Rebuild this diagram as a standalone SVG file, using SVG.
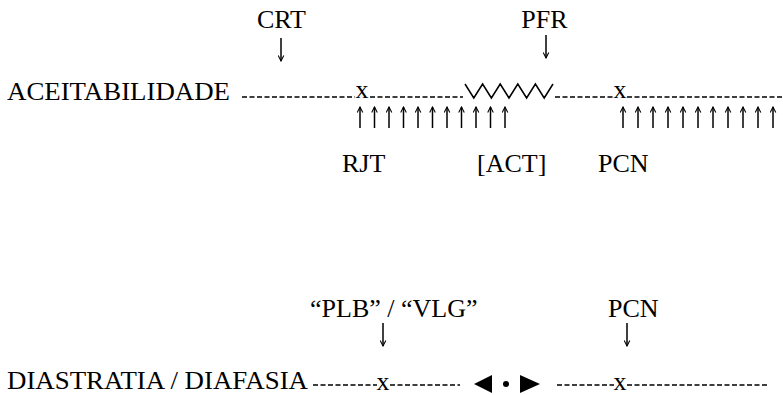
<svg xmlns="http://www.w3.org/2000/svg" width="783" height="395" viewBox="0 0 783 395">
<defs>
<style>
text{font-family:"Liberation Serif","Times New Roman",serif;font-size:26px;fill:#000}
.dash{stroke:#000;stroke-width:1.6;stroke-dasharray:5 2.5;fill:none}
.arr{stroke:#000;stroke-width:1.5;fill:none;marker-end:url(#ah)}
.zz{stroke:#000;stroke-width:1.5;fill:none}
</style>
<marker id="ah" viewBox="0 0 10 10" refX="9" refY="5" markerWidth="7" markerHeight="7" markerUnits="userSpaceOnUse" orient="auto">
<path d="M1,1 L9,5 L1,9" fill="none" stroke="#000" stroke-width="1.5"/>
</marker>
</defs>
<rect width="783" height="395" fill="#fff"/>

<g id="crt"><text x="281.5" y="28" text-anchor="middle">CRT</text></g>
<g id="pfr"><text x="544.5" y="28" text-anchor="middle">PFR</text></g>
<g id="aceitabilidade"><text x="7" y="100" textLength="223" lengthAdjust="spacingAndGlyphs">ACEITABILIDADE</text></g>
<g id="x1"><text x="362" y="98" text-anchor="middle">x</text></g>
<g id="x2"><text x="620" y="98" text-anchor="middle">x</text></g>
<g id="rjt"><text x="342" y="172">RJT</text></g>
<g id="act"><text x="477" y="172">[ACT]</text></g>
<g id="pcn1"><text x="598" y="172">PCN</text></g>
<g id="plb-vlg"><text x="310" y="317">“PLB” / “VLG”</text></g>
<g id="pcn2"><text x="608" y="317">PCN</text></g>
<g id="diastratia"><text x="7" y="389" textLength="301" lengthAdjust="spacingAndGlyphs">DIASTRATIA / DIAFASIA</text></g>
<g id="x3"><text x="383" y="390" text-anchor="middle">x</text></g>
<g id="x4"><text x="620" y="390" text-anchor="middle">x</text></g>
<g id="center-symbol">
<polygon points="474,384 492,375 492,393" fill="#000"/>
<circle cx="506" cy="384" r="3" fill="#000"/>
<polygon points="520,375 540,384 520,393" fill="#000"/>
</g>

<g id="connectors">
<line class="dash" x1="242" y1="97" x2="355" y2="97"/>
<line class="dash" x1="370" y1="97" x2="463" y2="97"/>
<polyline class="zz" points="465,84 473.8,98 482.6,84 491.4,98 500.2,84 509,98 517.8,84 526.6,98 535.4,84 544.2,98 553,84"/>
<line class="dash" x1="555" y1="97" x2="613" y2="97"/>
<line class="dash" x1="627" y1="97" x2="783" y2="97"/>

<line class="dash" x1="313" y1="385" x2="377" y2="385"/>
<line class="dash" x1="390" y1="385" x2="460" y2="385"/>
<line class="dash" x1="557" y1="385" x2="614" y2="385"/>
<line class="dash" x1="627" y1="385" x2="767" y2="385"/>

<line class="arr" x1="281" y1="38" x2="281" y2="61"/>
<line class="arr" x1="546" y1="35" x2="546" y2="58"/>
<line class="arr" x1="383" y1="323" x2="383" y2="346"/>
<line class="arr" x1="627" y1="323" x2="627" y2="346"/>

<line class="arr" x1="360" y1="128" x2="360" y2="107"/>
<line class="arr" x1="374.5" y1="128" x2="374.5" y2="107"/>
<line class="arr" x1="389" y1="128" x2="389" y2="107"/>
<line class="arr" x1="403.5" y1="128" x2="403.5" y2="107"/>
<line class="arr" x1="418" y1="128" x2="418" y2="107"/>
<line class="arr" x1="432.5" y1="128" x2="432.5" y2="107"/>
<line class="arr" x1="447" y1="128" x2="447" y2="107"/>
<line class="arr" x1="461.5" y1="128" x2="461.5" y2="107"/>
<line class="arr" x1="476" y1="128" x2="476" y2="107"/>
<line class="arr" x1="490.5" y1="128" x2="490.5" y2="107"/>
<line class="arr" x1="505" y1="128" x2="505" y2="107"/>

<line class="arr" x1="623" y1="128" x2="623" y2="107"/>
<line class="arr" x1="638" y1="128" x2="638" y2="107"/>
<line class="arr" x1="653" y1="128" x2="653" y2="107"/>
<line class="arr" x1="668" y1="128" x2="668" y2="107"/>
<line class="arr" x1="683" y1="128" x2="683" y2="107"/>
<line class="arr" x1="698" y1="128" x2="698" y2="107"/>
<line class="arr" x1="713" y1="128" x2="713" y2="107"/>
<line class="arr" x1="728" y1="128" x2="728" y2="107"/>
<line class="arr" x1="743" y1="128" x2="743" y2="107"/>
<line class="arr" x1="758" y1="128" x2="758" y2="107"/>
<line class="arr" x1="773" y1="128" x2="773" y2="107"/>
</g>
</svg>
